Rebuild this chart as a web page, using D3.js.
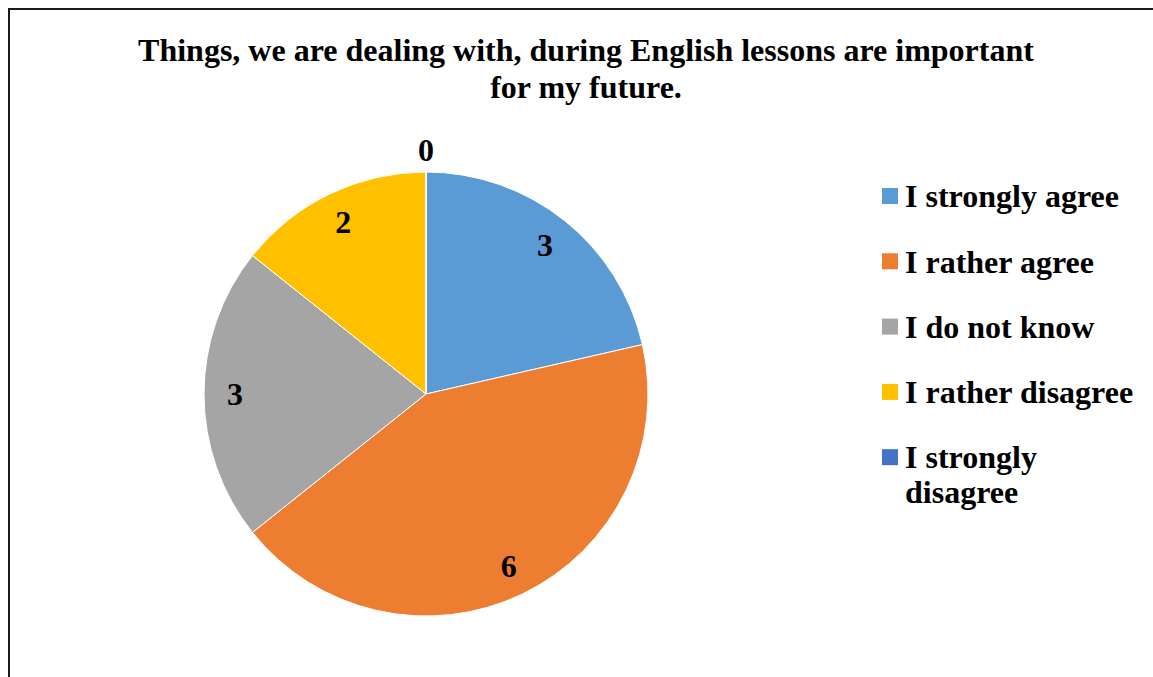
<!DOCTYPE html>
<html>
<head>
<meta charset="utf-8">
<script src="https://cdn.jsdelivr.net/npm/d3@7"></script>
<style>
  body { margin: 0; background: #fff; }
  svg { display: block; font-family: "Liberation Serif", "Times New Roman", serif; }
</style>
</head>
<body>
<svg id="chart" width="1153" height="677"></svg>
<script>
// data
const categories = ["I strongly agree", "I rather agree", "I do not know", "I rather disagree", "I strongly disagree"];
const counts = [3, 6, 3, 2, 0];
const colors = ["#5B9BD5", "#ED7D31", "#A5A5A5", "#FFC000", "#4472C4"];
const titleLines = ["Things, we are dealing with, during English lessons are important", "for my future."];

const width = 1153, height = 677;
const cx = 426, cy = 394, radius = 222;

const svg = d3.select("#chart");

// outer frame, runs off the right and bottom
svg.append("rect")
    .attr("x", 9).attr("y", 9)
    .attr("width", width + 20).attr("height", height + 20)
    .attr("fill", "none")
    .attr("stroke", "#1a1a1a")
    .attr("stroke-width", 2);

svg.selectAll("text.title")
    .data(titleLines)
    .join("text")
    .attr("class", "title")
    .attr("x", 586)
    .attr("y", (d, i) => 61 + i * 37)
    .attr("text-anchor", "middle")
    .attr("font-size", 32)
    .attr("font-weight", "bold")
    .text(d => d);

const color = d3.scaleOrdinal().domain(categories).range(colors);

const pie = d3.pie().sort(null).value(d => d.value);
const arcs = pie(categories.map((c, i) => ({name: c, value: counts[i]})));

const arc = d3.arc().innerRadius(0).outerRadius(radius);
const labelArc = d3.arc().innerRadius(radius * 0.86).outerRadius(radius * 0.86);
const outerLabelArc = d3.arc().innerRadius(radius + 22).outerRadius(radius + 22);

const g = svg.append("g").attr("transform", `translate(${cx},${cy})`);

g.selectAll("path")
    .data(arcs)
    .join("path")
    .attr("d", arc)
    .attr("fill", d => color(d.data.name))
    .attr("stroke", "#fff")
    .attr("stroke-width", 1);

g.selectAll("text")
    .data(arcs)
    .join("text")
    .attr("transform", d => `translate(${(d.value === 0 ? outerLabelArc : labelArc).centroid(d)})`)
    .attr("text-anchor", "middle")
    .attr("dy", "0.35em")
    .attr("font-size", 32)
    .attr("font-weight", "bold")
    .text(d => d.value);

// legend
const legend = svg.append("g").attr("transform", "translate(882,0)");
const rows = legend.selectAll("g")
    .data(categories)
    .join("g")
    .attr("transform", (d, i) => `translate(0,${196 + i * 65.3})`);

rows.append("rect")
    .attr("x", 0).attr("y", -8)
    .attr("width", 16).attr("height", 16)
    .attr("fill", d => color(d));

rows.append("text")
    .attr("x", 23)
    .attr("dy", "0.35em")
    .attr("font-size", 32)
    .attr("font-weight", "bold")
    .each(function(d) {
        const t = d3.select(this);
        if (d === "I strongly disagree") {
            t.append("tspan").attr("x", 23).text("I strongly");
            t.append("tspan").attr("x", 23).attr("dy", 35).text("disagree");
        } else {
            t.text(d);
        }
    });
</script>
</body>
</html>
